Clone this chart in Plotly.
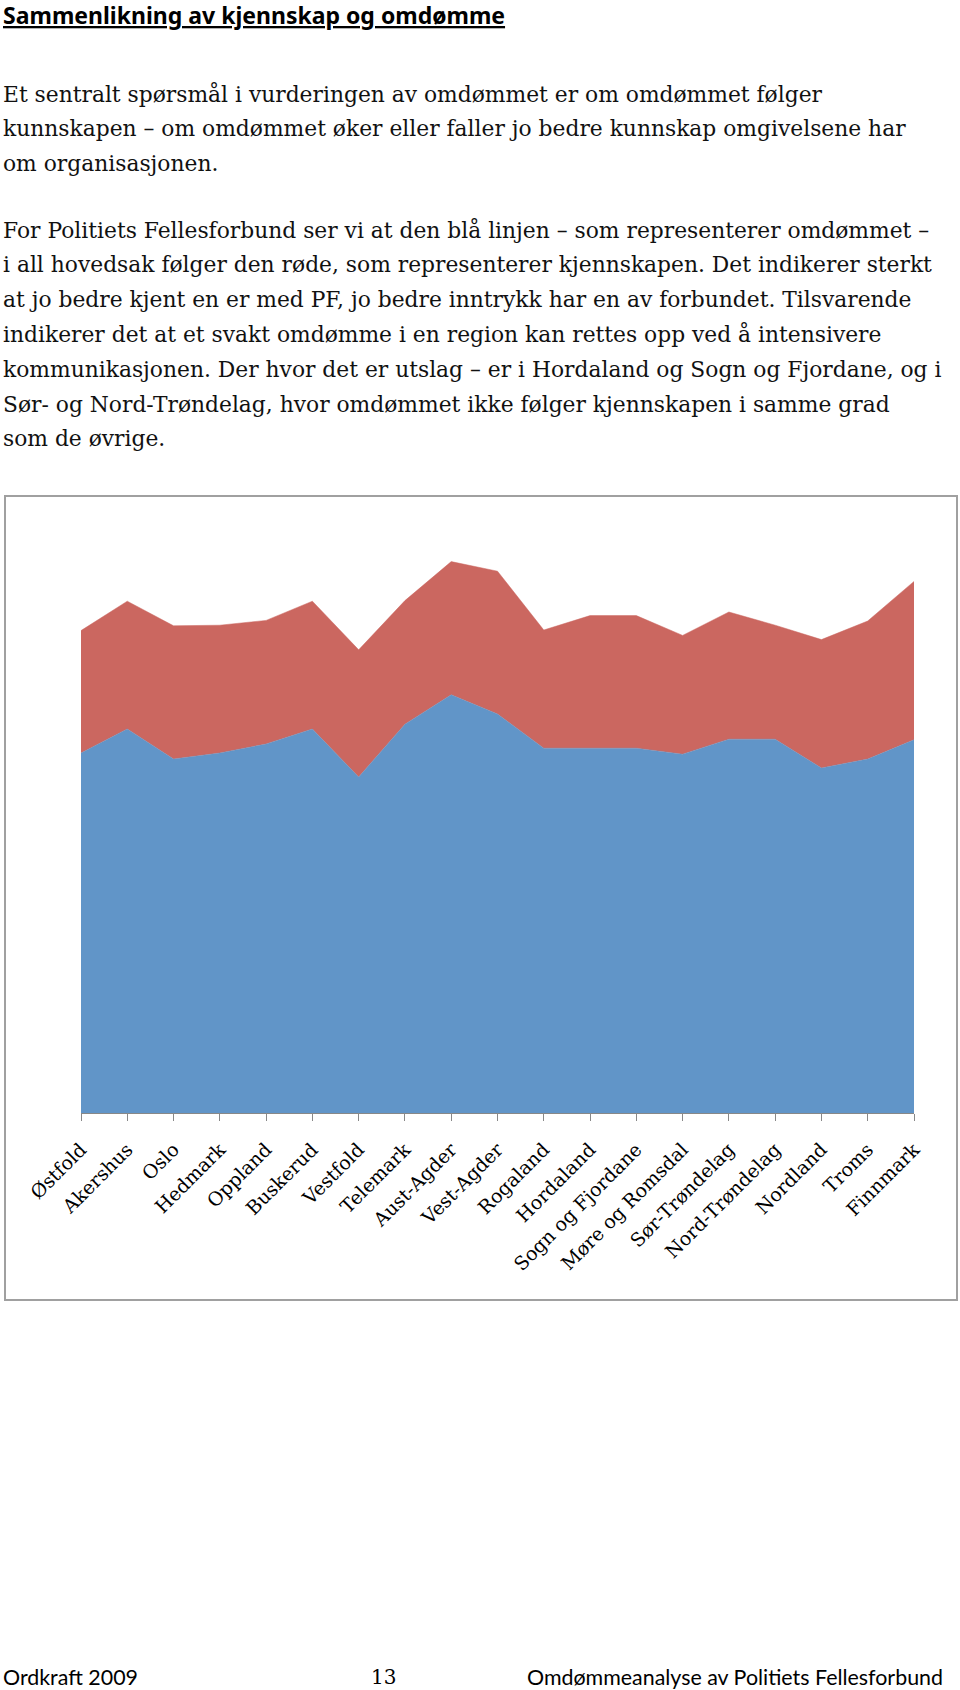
import plotly.graph_objects as go

# --- data ---
regioner = ['Østfold', 'Akershus', 'Oslo', 'Hedmark', 'Oppland', 'Buskerud', 'Vestfold',
            'Telemark', 'Aust-Agder', 'Vest-Agder', 'Rogaland', 'Hordaland', 'Sogn og Fjordane',
            'Møre og Romsdal', 'Sør-Trøndelag', 'Nord-Trøndelag', 'Nordland', 'Troms', 'Finnmark']
omdomme = [60.0, 64.0, 59.0, 60.0, 61.5, 64.0, 56.0, 64.8, 69.7, 66.5,
           60.8, 60.8, 60.8, 59.8, 62.3, 62.3, 57.5, 59.0, 62.2]
kjennskap = [20.4, 21.3, 22.2, 21.3, 20.6, 21.3, 21.2, 20.6, 22.2, 23.8,
             19.7, 22.1, 22.1, 19.8, 21.2, 19.0, 21.4, 23.0, 26.4]

W, H = 960, 1690

def px(x):
    # piksel fra venstre -> paper-koordinat
    return x / W

def py(y):
    # piksel fra toppen -> paper-koordinat
    return 1 - y / H

tittel = '<u><b>Sammenlikning av kjennskap og omdømme</b></u>'
avsnitt1 = [
    'Et sentralt spørsmål i vurderingen av omdømmet er om omdømmet følger',
    'kunnskapen – om omdømmet øker eller faller jo bedre kunnskap omgivelsene har',
    'om organisasjonen.',
]
avsnitt2 = [
    'For Politiets Fellesforbund ser vi at den blå linjen – som representerer omdømmet –',
    'i all hovedsak følger den røde, som representerer kjennskapen. Det indikerer sterkt',
    'at jo bedre kjent en er med PF, jo bedre inntrykk har en av forbundet. Tilsvarende',
    'indikerer det at et svakt omdømme i en region kan rettes opp ved å intensivere',
    'kommunikasjonen. Der hvor det er utslag – er i Hordaland og Sogn og Fjordane, og i',
    'Sør- og Nord-Trøndelag, hvor omdømmet ikke følger kjennskapen i samme grad',
    'som de øvrige.',
]

x = list(range(len(regioner)))

fig = go.Figure()
fig.add_trace(go.Scatter(x=x, y=omdomme, stackgroup='one', mode='lines',
                         line=dict(width=0.5, color='#6195C8'), fillcolor='#6195C8',
                         name='Omdømme', hoverinfo='skip'))
fig.add_trace(go.Scatter(x=x, y=kjennskap, stackgroup='one', mode='lines',
                         line=dict(width=0.5, color='#CB6760'), fillcolor='#CB6760',
                         name='Kjennskap', hoverinfo='skip'))

annot = []
annot.append(dict(text=tittel, x=px(1), y=py(15), xref='paper', yref='paper',
                  xanchor='left', yanchor='middle', showarrow=False,
                  font=dict(family='Noto Sans', size=23, color='#000')))
serif = dict(family='DejaVu Serif', size=21.8, color='#111')
for i, linje in enumerate(avsnitt1):
    annot.append(dict(text=linje, x=px(1), y=py(94 + i * 34.8), xref='paper', yref='paper',
                      xanchor='left', yanchor='middle', showarrow=False, font=serif))
for i, linje in enumerate(avsnitt2):
    annot.append(dict(text=linje, x=px(1), y=py(230 + i * 34.8), xref='paper', yref='paper',
                      xanchor='left', yanchor='middle', showarrow=False, font=serif))

# bunntekst
fot = dict(family='Lato', size=21.4, color='#000')
annot.append(dict(text='Ordkraft 2009', x=px(1), y=py(1677), xref='paper', yref='paper',
                  xanchor='left', yanchor='middle', showarrow=False, font=fot))
annot.append(dict(text='13', x=px(383), y=py(1677), xref='paper', yref='paper',
                  xanchor='center', yanchor='middle', showarrow=False,
                  font=dict(family='DejaVu Serif', size=20, color='#000')))
annot.append(dict(text='Omdømmeanalyse av Politiets Fellesforbund', x=px(945), y=py(1677),
                  xref='paper', yref='paper', xanchor='right', yanchor='middle',
                  showarrow=False, font=fot))

fig.update_layout(
    width=W, height=H,
    margin=dict(l=0, r=0, t=0, b=0, autoexpand=False),
    paper_bgcolor='white', plot_bgcolor='white',
    showlegend=False,
    annotations=annot,
    xaxis=dict(domain=[px(81), px(914)], range=[0, 18], tickmode='array', tickvals=x,
               ticktext=regioner, tickangle=-45, ticks='outside', ticklen=7,
               tickcolor='#888888', showline=True, linecolor='#888888', showgrid=False,
               zeroline=False, automargin=False, ticklabelstandoff=10,
               tickfont=dict(family='DejaVu Serif', size=19, color='#000')),
    yaxis=dict(domain=[py(1113), py(513)], range=[0, 100], visible=False,
               showgrid=False, zeroline=False, automargin=False),
    shapes=[dict(type='rect', xref='paper', yref='paper', x0=px(5), x1=px(957),
                 y0=py(1300), y1=py(496), line=dict(color='#A0A0A0', width=2))],
)

# fjern nettleserens standardmarg rundt figuren
fig.write_html('out.html', config={'displayModeBar': False},
               post_script="document.body.style.margin='0px';")
